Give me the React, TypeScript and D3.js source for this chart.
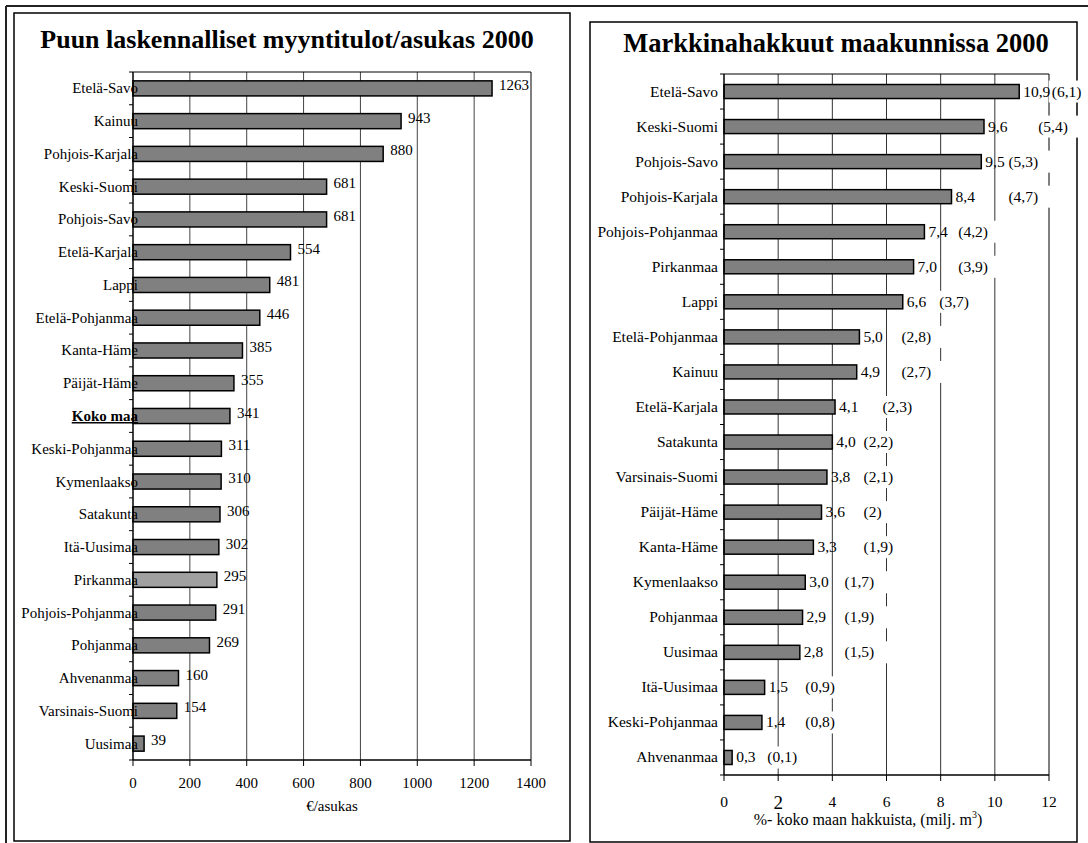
import * as d3 from 'd3';

// left chart: wood sales income per inhabitant, 2000
const incomeRegions = [
  'Etelä-Savo', 'Kainuu', 'Pohjois-Karjala', 'Keski-Suomi', 'Pohjois-Savo',
  'Etelä-Karjala', 'Lappi', 'Etelä-Pohjanmaa', 'Kanta-Häme', 'Päijät-Häme',
  'Koko maa', 'Keski-Pohjanmaa', 'Kymenlaakso', 'Satakunta', 'Itä-Uusimaa',
  'Pirkanmaa', 'Pohjois-Pohjanmaa', 'Pohjanmaa', 'Ahvenanmaa', 'Varsinais-Suomi',
  'Uusimaa',
];
const incomePerCapita = [
  1263, 943, 880, 681, 681, 554, 481, 446, 385, 355, 341, 311, 310, 306, 302,
  295, 291, 269, 160, 154, 39,
];
const incomeTicks = [0, 200, 400, 600, 800, 1000, 1200, 1400];

// right chart: market fellings by region, 2000
const harvestRegions = [
  'Etelä-Savo', 'Keski-Suomi', 'Pohjois-Savo', 'Pohjois-Karjala', 'Pohjois-Pohjanmaa',
  'Pirkanmaa', 'Lappi', 'Etelä-Pohjanmaa', 'Kainuu', 'Etelä-Karjala', 'Satakunta',
  'Varsinais-Suomi', 'Päijät-Häme', 'Kanta-Häme', 'Kymenlaakso', 'Pohjanmaa',
  'Uusimaa', 'Itä-Uusimaa', 'Keski-Pohjanmaa', 'Ahvenanmaa',
];
const harvestShare = [
  10.9, 9.6, 9.5, 8.4, 7.4, 7.0, 6.6, 5.0, 4.9, 4.1, 4.0, 3.8, 3.6, 3.3, 3.0,
  2.9, 2.8, 1.5, 1.4, 0.3,
];
const harvestVolume = [
  6.1, 5.4, 5.3, 4.7, 4.2, 3.9, 3.7, 2.8, 2.7, 2.3, 2.2, 2.1, 2, 1.9, 1.7,
  1.9, 1.5, 0.9, 0.8, 0.1,
];
// where the hand-placed volume notes sit, in axis units
const volumeNoteAt = [
  12.1, 11.6, 10.5, 10.5, 8.65, 8.65, 7.95, 6.55, 6.55, 5.85, 5.15, 5.15, 5.15,
  5.15, 4.45, 4.45, 4.45, 3.0, 3.0, 1.6,
];
const shareTicks = [0, 2, 4, 6, 8, 10, 12];

const FONT = '"Liberation Serif", "Times New Roman", serif';

const fi = d3.formatLocale({ decimal: ',', thousands: ' ', grouping: [3], currency: ['', ''] });
const oneDecimal = fi.format('.1f');
const volumeText = (v: number) => (Number.isInteger(v) ? String(v) : oneDecimal(v));

function IncomeChart() {
  const x = d3.scaleLinear().domain([0, 1400]).range([133, 531]);
  const y = d3
    .scaleBand<string>()
    .domain(incomeRegions)
    .range([72, 760])
    .paddingInner(0.54)
    .paddingOuter(0.27);
  const step = y.step();
  const top = 72;
  const bottom = 760;

  return (
    <g fontFamily={FONT}>
      <rect x={14} y={13} width={556} height={828} fill="#fff" stroke="#000" strokeWidth={1.5} />
      <text x={287} y={48} textAnchor="middle" fontWeight="bold" fontSize={26}>
        Puun laskennalliset myyntitulot/asukas 2000
      </text>

      {incomeTicks.slice(1).map((t) => (
        <line key={t} x1={x(t)} x2={x(t)} y1={top} y2={bottom} stroke={t === 1400 ? '#000' : '#444'} strokeWidth={1} />
      ))}
      <line x1={x(0)} x2={x(1400)} y1={top} y2={top} stroke="#000" strokeWidth={1} />

      {incomeRegions.map((r, i) => (
        <rect
          key={r}
          x={x(0)}
          y={y(r)}
          width={x(incomePerCapita[i]) - x(0)}
          height={y.bandwidth()}
          fill={r === 'Pirkanmaa' ? '#a0a0a0' : '#808080'}
          stroke="#000"
          strokeWidth={1.5}
        />
      ))}

      {/* axes */}
      <line x1={x(0)} x2={x(1400)} y1={bottom} y2={bottom} stroke="#000" strokeWidth={1.5} />
      <line x1={x(0)} x2={x(0)} y1={top} y2={bottom} stroke="#000" strokeWidth={1.5} />
      {incomeTicks.map((t) => (
        <g key={t}>
          <line x1={x(t)} x2={x(t)} y1={bottom} y2={bottom + 6} stroke="#000" />
          <text x={x(t)} y={bottom + 28} textAnchor="middle" fontSize={15}>
            {t}
          </text>
        </g>
      ))}
      {d3.range(incomeRegions.length + 1).map((i) => (
        <line key={i} x1={x(0) - 4} x2={x(0)} y1={top + i * step} y2={top + i * step} stroke="#000" />
      ))}
      <text x={(x(0) + x(1400)) / 2} y={811} textAnchor="middle" fontSize={15}>
        €/asukas
      </text>

      {incomeRegions.map((r, i) => {
        const cy = (y(r) ?? 0) + y.bandwidth() / 2;
        const total = r === 'Koko maa';
        return (
          <g key={r}>
            <text
              x={138}
              y={cy + 5}
              textAnchor="end"
              fontSize={15}
              fontWeight={total ? 'bold' : 'normal'}
              style={total ? { textDecoration: 'underline' } : undefined}
            >
              {r}
            </text>
            <text x={x(incomePerCapita[i]) + 7} y={cy + 1.5} fontSize={15}>
              {incomePerCapita[i]}
            </text>
          </g>
        );
      })}
    </g>
  );
}

function HarvestChart() {
  const x = d3.scaleLinear().domain([0, 12]).range([724, 1049]);
  const y = d3
    .scaleBand<string>()
    .domain(harvestRegions)
    .range([74, 775])
    .paddingInner(0.6)
    .paddingOuter(0.3);
  const step = y.step();
  const top = 74;
  const bottom = 775;
  const fs = 15.5;

  return (
    <g fontFamily={FONT}>
      <rect x={590} y={22} width={487} height={820} fill="#fff" stroke="#000" strokeWidth={1.5} />
      <text x={836} y={52} textAnchor="middle" fontWeight="bold" fontSize={26.5}>
        Markkinahakkuut maakunnissa 2000
      </text>

      {shareTicks.slice(1).map((t) => (
        <line key={t} x1={x(t)} x2={x(t)} y1={top} y2={bottom} stroke={t === 12 ? '#000' : '#333'} strokeWidth={1} />
      ))}
      <line x1={x(0)} x2={x(12)} y1={top} y2={top} stroke="#000" strokeWidth={1} />

      {/* the volume notes were text boxes with a white fill, they cut the gridlines */}
      {harvestRegions.map((r, i) => {
        const cy = (y(r) ?? 0) + y.bandwidth() / 2;
        return <rect key={r} x={x(volumeNoteAt[i]) - 3} y={cy - 11} width={46} height={22} fill="#fff" />;
      })}

      {harvestRegions.map((r, i) => (
        <rect
          key={r}
          x={x(0)}
          y={y(r)}
          width={x(harvestShare[i]) - x(0)}
          height={y.bandwidth()}
          fill="#808080"
          stroke="#000"
          strokeWidth={1.5}
        />
      ))}

      <line x1={x(0)} x2={x(12)} y1={bottom} y2={bottom} stroke="#000" strokeWidth={1.5} />
      <line x1={x(0)} x2={x(0)} y1={top} y2={bottom} stroke="#000" strokeWidth={1.5} />
      {shareTicks.map((t) => (
        <g key={t}>
          <line x1={x(t)} x2={x(t)} y1={bottom} y2={bottom + 6} stroke="#000" />
          <text x={x(t)} y={bottom + (t === 2 ? 34 : 32)} textAnchor="middle" fontSize={t === 2 ? 19 : fs}>
            {t}
          </text>
        </g>
      ))}
      {d3.range(harvestRegions.length + 1).map((i) => (
        <line key={i} x1={x(0) - 4} x2={x(0)} y1={top + i * step} y2={top + i * step} stroke="#000" />
      ))}
      <text x={868} y={825} textAnchor="middle" fontSize={16}>
        %- koko maan hakkuista, (milj. m
        <tspan dy={-7} fontSize={10}>
          3
        </tspan>
        <tspan dy={7}>)</tspan>
      </text>

      {harvestRegions.map((r, i) => {
        const cy = (y(r) ?? 0) + y.bandwidth() / 2;
        return (
          <g key={r}>
            <text x={718} y={cy + 5} textAnchor="end" fontSize={fs}>
              {r}
            </text>
            <text x={x(harvestShare[i]) + 4} y={cy + 5} fontSize={fs}>
              {oneDecimal(harvestShare[i])}
            </text>
            <text x={x(volumeNoteAt[i])} y={cy + 5} fontSize={fs}>
              ({volumeText(harvestVolume[i])})
            </text>
          </g>
        );
      })}
    </g>
  );
}

export default function App() {
  return (
    <div style={{ position: 'absolute', left: 0, top: 0, width: 1088, height: 843, background: '#fff' }}>
      <svg width={1088} height={843} style={{ display: 'block' }}>
        <rect width={1088} height={843} fill="#fff" />
        <line x1={6} y1={6} x2={1088} y2={6} stroke="#222" strokeWidth={2} />
        <line x1={6} y1={6} x2={6} y2={843} stroke="#222" strokeWidth={2} />
        <IncomeChart />
        <HarvestChart />
      </svg>
    </div>
  );
}
